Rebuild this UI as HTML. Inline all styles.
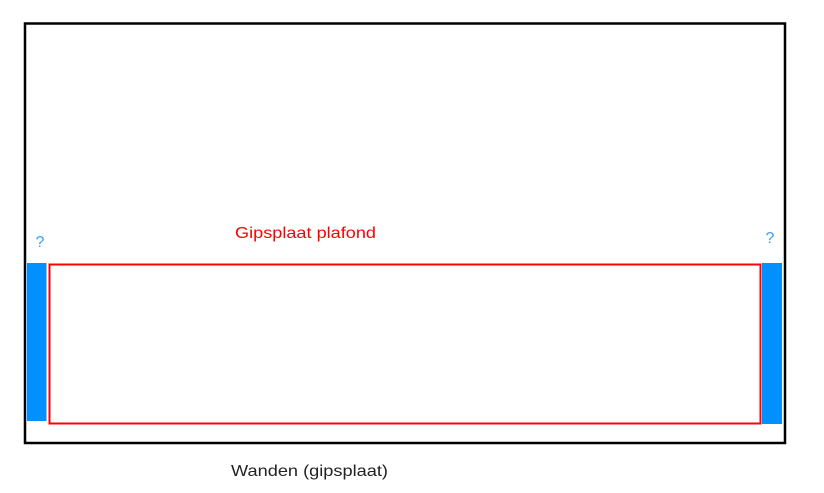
<!DOCTYPE html>
<html><head><meta charset="utf-8"><style>html,body{margin:0;padding:0;background:#fff;}</style></head>
<body>
<svg width="824" height="493" xmlns="http://www.w3.org/2000/svg" style="display:block">
<rect x="0" y="0" width="824" height="493" fill="#fff"/>
<rect x="25" y="23.5" width="760" height="419.5" fill="none" stroke="#000" stroke-width="2.5"/>
<rect x="27" y="263" width="19.5" height="158" fill="#0090ff"/>
<rect x="762" y="263" width="20" height="161" fill="#0090ff"/>
<rect x="49.5" y="264.5" width="711" height="159" fill="none" stroke="#ff0000" stroke-width="2"/>
<text x="40" y="247" font-family="Liberation Sans, sans-serif" font-size="16" fill="#3aa0f0" text-anchor="middle">?</text>
<text x="770" y="243" font-family="Liberation Sans, sans-serif" font-size="16" fill="#3aa0f0" text-anchor="middle">?</text>
<text x="235" y="238" font-family="Liberation Sans, sans-serif" font-size="16" fill="#ff0000" textLength="141" lengthAdjust="spacingAndGlyphs">Gipsplaat plafond</text>
<text x="231" y="476" font-family="Liberation Sans, sans-serif" font-size="16" fill="#222" textLength="157" lengthAdjust="spacingAndGlyphs">Wanden (gipsplaat)</text>
</svg>
</body></html>
